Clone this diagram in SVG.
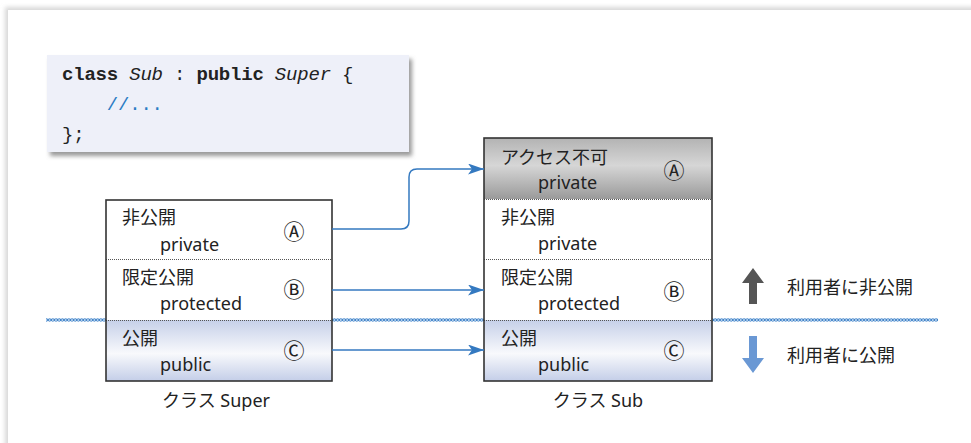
<svg xmlns="http://www.w3.org/2000/svg" width="971" height="443" viewBox="0 0 971 443">
<defs>
  <style>
    .lbl{font-family:"Noto Sans","Noto Sans CJK JP",sans-serif;font-size:18px;fill:#222}
    .mk{font-family:"Noto Sans CJK JP",sans-serif;font-size:21px;fill:#222;text-anchor:middle}
    .code{font-family:"Liberation Mono",monospace;font-size:19px;letter-spacing:-0.2px;fill:#222}
    .box{fill:none;stroke:#333;stroke-width:1.6}
    .div{stroke:#555;stroke-width:1;stroke-dasharray:1 1}
    .conn{fill:none;stroke:#3479c0;stroke-width:1.5}
  </style>
  <linearGradient id="gPub" x1="0" y1="0" x2="0" y2="1">
    <stop offset="0" stop-color="#c6d0e9"/>
    <stop offset="0.55" stop-color="#f8f9fc"/>
    <stop offset="1" stop-color="#c4cee8"/>
  </linearGradient>
  <linearGradient id="gGray" x1="0" y1="0" x2="0" y2="1">
    <stop offset="0" stop-color="#b3b3b3"/>
    <stop offset="0.45" stop-color="#d6d6d6"/>
    <stop offset="1" stop-color="#9a9a9a"/>
  </linearGradient>
  <pattern id="chain" x="0" y="318" width="3.2" height="4" patternUnits="userSpaceOnUse">
    <ellipse cx="1.6" cy="2" rx="1.3" ry="1.2" fill="none" stroke="#3a80c8" stroke-width="0.9"/>
  </pattern>
  <filter id="blur" x="-5%" y="-5%" width="110%" height="110%">
    <feGaussianBlur stdDeviation="2"/>
  </filter>
  <marker id="arr" viewBox="0 0 16 11" refX="16" refY="5.5" markerWidth="16" markerHeight="11" markerUnits="userSpaceOnUse" orient="auto">
    <path d="M0,0 L16,5.5 L0,11 L4,5.5 z" fill="#3479c0"/>
  </marker>
</defs>

<!-- page -->
<rect x="0" y="0" width="971" height="443" fill="#ffffff"/>
<rect x="5" y="7" width="1000" height="500" fill="#d8d8d8" filter="url(#blur)"/>
<rect x="8" y="10" width="1000" height="500" fill="#ffffff"/>

<!-- code box -->
<g id="code">
  <rect x="50" y="59" width="362" height="97" fill="#9a9a9a" filter="url(#blur)"/>
  <rect x="47" y="55" width="362" height="97" fill="#eef0f9"/>
  <text class="code" x="62" y="80"><tspan font-weight="bold">class</tspan> <tspan font-style="italic">Sub</tspan> : <tspan font-weight="bold">public</tspan> <tspan font-style="italic">Super</tspan> {</text>
  <text class="code" x="106.8" y="110" style="fill:#2a7cc4">//...</text>
  <text class="code" x="62" y="140">};</text>
</g>

<!-- boundary chain -->
<rect x="46" y="318" width="892" height="4" fill="url(#chain)"/>

<!-- class Super -->
<g id="super">
  <rect x="106" y="200" width="226" height="60" fill="#ffffff"/>
  <rect x="106" y="260" width="226" height="60" fill="#ffffff"/>
  <rect x="106" y="320" width="226" height="61" fill="url(#gPub)"/>
  <line class="div" x1="106" y1="259.5" x2="332" y2="259.5"/>
  <line class="div" x1="106" y1="320.5" x2="332" y2="320.5"/>
  <rect class="box" x="106" y="200" width="226" height="181"/>
  <text class="lbl" x="122" y="224">非公開</text>
  <text class="lbl" x="160" y="251">private</text>
  <text class="mk" x="294" y="239">Ⓐ</text>
  <text class="lbl" x="122" y="284">限定公開</text>
  <text class="lbl" x="160" y="310">protected</text>
  <text class="mk" x="294" y="297">Ⓑ</text>
  <text class="lbl" x="122" y="345">公開</text>
  <text class="lbl" x="160" y="371">public</text>
  <text class="mk" x="294" y="358">Ⓒ</text>
  <text class="lbl" x="216" y="407" text-anchor="middle">クラス Super</text>
</g>

<!-- class Sub -->
<g id="sub">
  <rect x="484" y="138" width="228" height="61" fill="url(#gGray)"/>
  <rect x="484" y="199" width="228" height="60" fill="#ffffff"/>
  <rect x="484" y="259" width="228" height="61" fill="#ffffff"/>
  <rect x="484" y="320" width="228" height="61" fill="url(#gPub)"/>
  <line class="div" x1="484" y1="199.5" x2="712" y2="199.5"/>
  <line class="div" x1="484" y1="259.5" x2="712" y2="259.5"/>
  <line class="div" x1="484" y1="320.5" x2="712" y2="320.5"/>
  <rect class="box" x="484" y="138" width="228" height="243"/>
  <text class="lbl" x="501" y="164">アクセス不可</text>
  <text class="lbl" x="538" y="189">private</text>
  <text class="mk" x="674" y="178">Ⓐ</text>
  <text class="lbl" x="501" y="224">非公開</text>
  <text class="lbl" x="538" y="250">private</text>
  <text class="lbl" x="501" y="284">限定公開</text>
  <text class="lbl" x="538" y="310">protected</text>
  <text class="mk" x="674" y="299">Ⓑ</text>
  <text class="lbl" x="501" y="345">公開</text>
  <text class="lbl" x="538" y="371">public</text>
  <text class="mk" x="674" y="358">Ⓒ</text>
  <text class="lbl" x="598" y="407" text-anchor="middle">クラス Sub</text>
</g>

<!-- connectors -->
<g id="connectors">
  <path class="conn" d="M332,229 H401 Q409,229 409,221 V177 Q409,169 417,169 H484" marker-end="url(#arr)"/>
  <path class="conn" d="M332,290 H484" marker-end="url(#arr)"/>
  <path class="conn" d="M332,350 H484" marker-end="url(#arr)"/>
</g>

<!-- legend -->
<g id="legend">
  <polygon points="753,268 764,283 757,283 757,304 749,304 749,283 742,283" fill="#555555"/>
  <text class="lbl" x="787" y="294">利用者に非公開</text>
  <polygon points="749,336 757,336 757,358 764,358 753,373 742,358 749,358" fill="#6a98d4"/>
  <text class="lbl" x="787" y="362">利用者に公開</text>
</g>
</svg>
